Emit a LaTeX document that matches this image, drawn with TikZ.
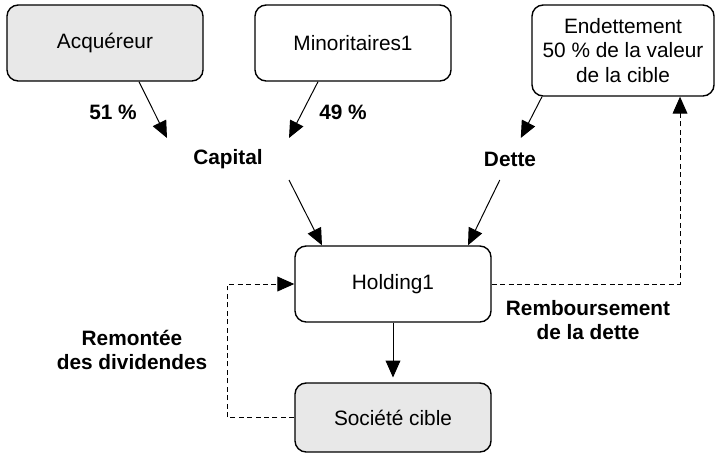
\documentclass[tikz,border=0pt]{standalone}
\usepackage{fontspec}
\setmainfont{Liberation Sans}
\usetikzlibrary{arrows.meta}
\definecolor{Gris}{rgb}{0.91, 0.91, 0.91}
\newcommand{\taille}{\fontsize{14.8}{17.5}\selectfont}
\tikzset{
    boite/.style={draw, line width=1pt, rounded corners=8pt, minimum width=4.9cm, minimum height=1.9cm, align=center, font=\taille},
    etiquette/.style={font=\taille\bfseries, inner sep=0pt, outer sep=0pt, align=center},
    fleche/.style={line width=0.7pt, -{Triangle[length=12pt, width=10.5pt]}},
    pointille/.style={dash pattern=on 3.5pt off 2.5pt}
}

\begin{document}
\begin{tikzpicture}[x=0.025cm, y=-0.025cm]
        % Size of the page (one unit = one pixel of the picture)
        \useasboundingbox (0,0) rectangle (720,455);

        % Draw the boxes
        \node[boite, fill=Gris] (acq) at (105,43) {Acquéreur};
        \node[boite] (mino) at (353,43) {Minoritaires1};
        \node[boite, minimum width=4.55cm, minimum height=2.275cm] (endet) at (623,50.5) {Endettement\\50 \% de la valeur\\de la cible};
        \node[boite] (holding) at (393,284) {Holding1};
        \node[boite, fill=Gris, minimum height=1.725cm] (cible) at (393,417.5) {Société cible};

        % Add the labels
        \node[etiquette] (p51) at (113,112) {51 \%};
        \node[etiquette] (p49) at (343,112) {49 \%};
        \node[etiquette, minimum width=3.05cm, minimum height=1.05cm] (capital) at (228,159) {Capital};
        \node[etiquette, minimum height=1.05cm] (dette) at (510,159) {Dette};
        \node[etiquette] (remb) at (588,320) {Remboursement\\de la dette};
        \node[etiquette] (remont) at (132,350) {Remontée\\des dividendes};

        % Capital and debt towards the holding
        \draw[fleche] ([xshift=0.85cm]acq.south) -- (capital.north west);
        \draw[fleche] ([xshift=-0.875cm]mino.south) -- (capital.north east);
        \draw[fleche] (capital.south east) -- ([xshift=-1.775cm]holding.north);
        \draw[fleche] ([xshift=-2.025cm]endet.south) -- (dette);
        \draw[fleche] (dette) -- ([xshift=1.875cm]holding.north);
        \draw[fleche, shorten >=0.12cm] (holding) -- (cible);

        % Dividends and repayment
        \draw[fleche, pointille] (cible.west) -- ++(-67,0) |- (holding.west);
        \draw[fleche, pointille] (holding.east) -| ([xshift=1.425cm]endet.south);
    \end{tikzpicture}
\end{document}
